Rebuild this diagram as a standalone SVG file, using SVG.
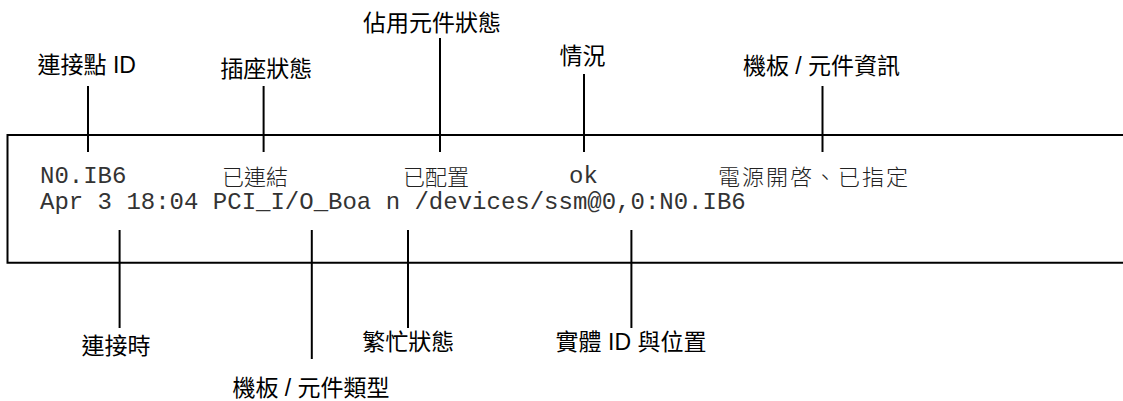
<svg xmlns="http://www.w3.org/2000/svg" width="1123" height="401" viewBox="0 0 1123 401">
  <style>
    .lbl { font-family: "Liberation Sans", "Noto Sans CJK TC", sans-serif; font-size: 23px; fill: #000; text-anchor: middle; }
    .mono { font-family: "Liberation Mono", "Noto Sans CJK TC", monospace; font-size: 24px; fill: #333; }
    .cjk { font-family: "Noto Sans CJK TC", sans-serif; font-size: 22px; font-weight: 300; fill: #222; }
    .ln { stroke: #000; stroke-width: 2; fill: none; }
  </style>
  <rect width="1123" height="401" fill="#fff"/>
  <g id="box">
    <path class="ln" d="M1123,135 H7.5 V262.7 H1123"/>
    <text class="mono" x="40" y="183">N0.IB6</text>
    <text class="cjk" x="222" y="185">已連結</text>
    <text class="cjk" x="403" y="185">已配置</text>
    <text class="mono" x="569" y="183">ok</text>
    <text class="cjk" x="718" y="185" textLength="190">電源開啓、已指定</text>
    <text class="mono" x="40" y="209" xml:space="preserve">Apr 3 18:04 PCI_I/O_Boa n /devices/ssm@0,0:N0.IB6</text>
  </g>
  <g id="connectors">
    <line class="ln" x1="88" y1="86" x2="88" y2="152"/>
    <line class="ln" x1="263.6" y1="86" x2="263.6" y2="152"/>
    <line class="ln" x1="440" y1="38" x2="440" y2="152"/>
    <line class="ln" x1="584" y1="74" x2="584" y2="152"/>
    <line class="ln" x1="822.5" y1="86" x2="822.5" y2="152"/>
    <line class="ln" x1="119.6" y1="230" x2="119.6" y2="328"/>
    <line class="ln" x1="311.8" y1="230" x2="311.8" y2="359"/>
    <line class="ln" x1="408" y1="230" x2="408" y2="328"/>
    <line class="ln" x1="631.4" y1="230" x2="631.4" y2="328"/>
  </g>
  <g id="label-attach-id"><text class="lbl" x="86.7" y="73">連接點 ID</text></g>
  <g id="label-receptacle"><text class="lbl" x="266.3" y="77">插座狀態</text></g>
  <g id="label-occupant"><text class="lbl" x="432" y="31">佔用元件狀態</text></g>
  <g id="label-condition"><text class="lbl" x="582.5" y="64">情況</text></g>
  <g id="label-info"><text class="lbl" x="821.5" y="74">機板 / 元件資訊</text></g>
  <g id="label-when"><text class="lbl" x="116" y="354">連接時</text></g>
  <g id="label-type"><text class="lbl" x="311" y="396">機板 / 元件類型</text></g>
  <g id="label-busy"><text class="lbl" x="408.3" y="350">繁忙狀態</text></g>
  <g id="label-physid"><text class="lbl" x="631" y="350">實體 ID 與位置</text></g>
</svg>
